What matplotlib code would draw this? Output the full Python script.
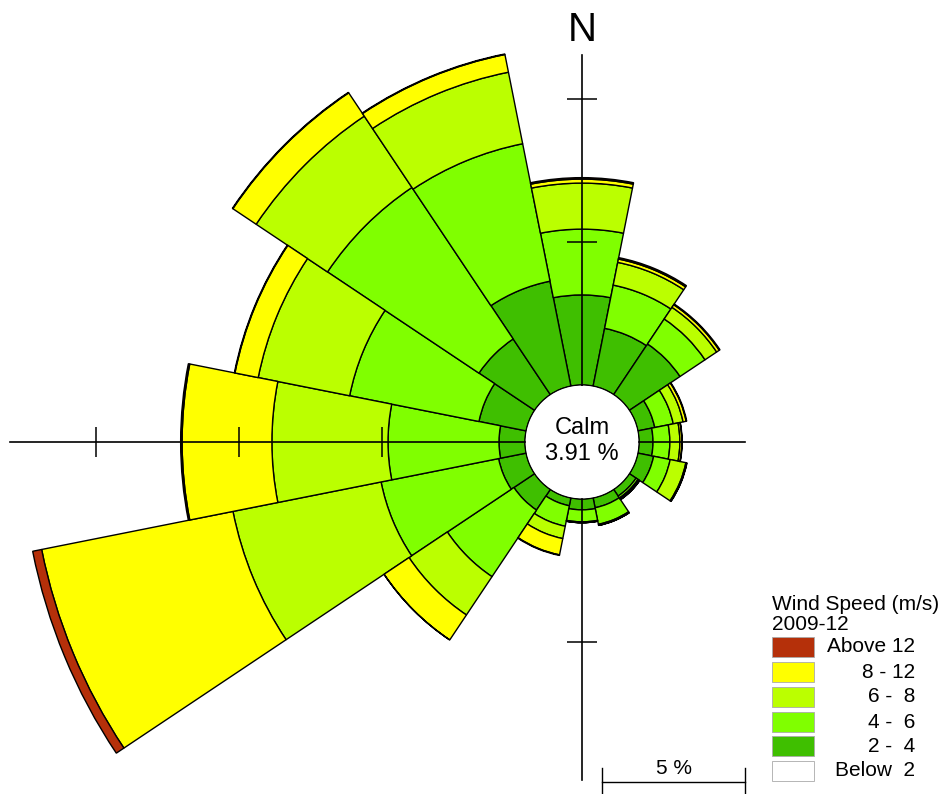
import numpy as np
import matplotlib.pyplot as plt
from matplotlib.patches import Rectangle
from matplotlib.lines import Line2D

plt.rcParams['font.family'] = ['Liberation Sans', 'DejaVu Sans']

# wind rose data, % of time per direction and speed class (m/s)
directions = ['N', 'NNE', 'NE', 'ENE', 'E', 'ESE', 'SE', 'SSE',
              'S', 'SSW', 'SW', 'WSW', 'W', 'WNW', 'NW', 'NNW']
below_2 = [0.0, 0.0, 0.0, 0.0, 0.0, 0.0, 0.0, 0.0,
           0.0, 0.0, 0.0, 0.0, 0.0, 0.0, 0.0, 0.0]
speed_2_4 = [3.15, 2.06, 2.13, 0.60, 0.49, 0.56, 0.28, 0.35,
             0.38, 0.28, 0.87, 0.98, 0.91, 1.68, 2.34, 3.74]
speed_4_6 = [2.30, 1.54, 1.05, 0.66, 0.59, 0.59, 0.08, 0.59,
             0.42, 0.73, 2.80, 4.19, 3.88, 4.61, 6.37, 4.90]
speed_6_8 = [1.61, 0.81, 0.49, 0.35, 0.35, 0.56, 0.04, 0.03,
             0.02, 0.44, 1.61, 5.28, 4.06, 3.26, 3.00, 2.55]
speed_8_12 = [0.14, 0.12, 0.11, 0.11, 0.07, 0.03, 0.03, 0.01,
              0.01, 0.58, 1.05, 6.82, 3.14, 0.83, 0.98, 0.63]
above_12 = [0.05, 0.05, 0.03, 0.02, 0.01, 0.01, 0.00, 0.00,
            0.00, 0.02, 0.00, 0.32, 0.05, 0.02, 0.02, 0.02]
calm_pct = 3.91
period = '2009-12'

speed_classes = [below_2, speed_2_4, speed_4_6, speed_6_8, speed_8_12, above_12]
class_colors = ['white', '#3fbf00', '#80ff00', '#bbff00', '#ffff00', '#b5300a']
legend_labels = ['Below  2', '2 -  4', '4 -  6', '6 -  8', '8 - 12', 'Above 12']

W, H = 946, 794
fig = plt.figure(figsize=(W / 100, H / 100), dpi=100)

# geometry in pixels
cx, cy = 582, 442
px_per_pct = 28.6
hole = 57
rmax = 18.0
R = hole + rmax * px_per_pct

ax = fig.add_axes([(cx - R) / W, (H - cy - R) / H, 2 * R / W, 2 * R / H],
                  projection='polar')
ax.set_theta_zero_location('N')
ax.set_theta_direction(-1)
ax.set_rorigin(-hole / px_per_pct)
ax.set_ylim(0, rmax)

theta = np.deg2rad(np.arange(16) * 22.5)
width = 2 * np.pi / 16
bottom = np.zeros(16)
for vals, col in zip(speed_classes, class_colors):
    vals = np.array(vals)
    ax.bar(theta, vals, width=width, bottom=bottom, color=col,
           edgecolor='black', linewidth=1.0, align='center')
    bottom += vals

# cross hairs with 5 % ticks
arms = [(0, 11.54, '_'), (np.pi / 2, 3.71, '|'),
        (np.pi, 9.83, '_'), (3 * np.pi / 2, 18.0, '|')]
for ang, length, mk in arms:
    ax.plot([ang, ang], [0, length], color='black', lw=1.2, zorder=5,
            clip_on=False)
    ticks = [t for t in (5, 10, 15) if t < length]
    ax.plot([ang] * len(ticks), ticks, linestyle='none', marker=mk,
            markersize=22, markeredgewidth=1.1, color='black', zorder=5,
            clip_on=False)

ax.set_xticks([])
ax.set_yticks([])
ax.grid(False)
for sp in ax.spines.values():
    sp.set_visible(False)
ax.patch.set_alpha(0)

# calm label
fig.text(cx / W, 1 - 428 / H, 'Calm', ha='center', va='center', fontsize=17)
fig.text(cx / W, 1 - 454 / H, f'{calm_pct:.2f} %', ha='center', va='center',
         fontsize=17)

fig.text(cx / W, 1 - 30 / H, 'N', ha='center', va='center', fontsize=29)

# scale bar (5 %)
p0 = ax.transData.transform((np.pi / 2, 0))
p5 = ax.transData.transform((np.pi / 2, 5))
bar_len = np.hypot(*(p5 - p0))
x0, y0 = 602, 782
x1 = x0 + bar_len
fig.add_artist(Line2D([x0 / W, x1 / W], [1 - y0 / H, 1 - y0 / H],
                      color='black', lw=1.0, transform=fig.transFigure))
for xx in (x0, x1):
    fig.add_artist(Line2D([xx / W, xx / W], [1 - 768 / H, 1 - 796 / H],
                          color='black', lw=1.0, transform=fig.transFigure))
fig.text((x0 + x1) / 2 / W, 1 - 768 / H, '5 %', ha='center', va='center',
         fontsize=15)

# legend
fig.text(772 / W, 1 - 604 / H, 'Wind Speed (m/s)', ha='left', va='center',
         fontsize=15)
fig.text(772 / W, 1 - 624 / H, period, ha='left', va='center', fontsize=15)
rows = [771, 746, 722, 697, 672, 647]
for yy, col, lab in zip(rows, class_colors, legend_labels):
    fig.add_artist(Rectangle((772 / W, 1 - (yy + 10) / H), 42 / W, 20 / H,
                             facecolor=col, edgecolor='#aaaaaa', lw=0.6,
                             transform=fig.transFigure))
    fig.text(915 / W, 1 - yy / H, lab, ha='right', va='center', fontsize=15)

fig.savefig('out.png', dpi=100)
